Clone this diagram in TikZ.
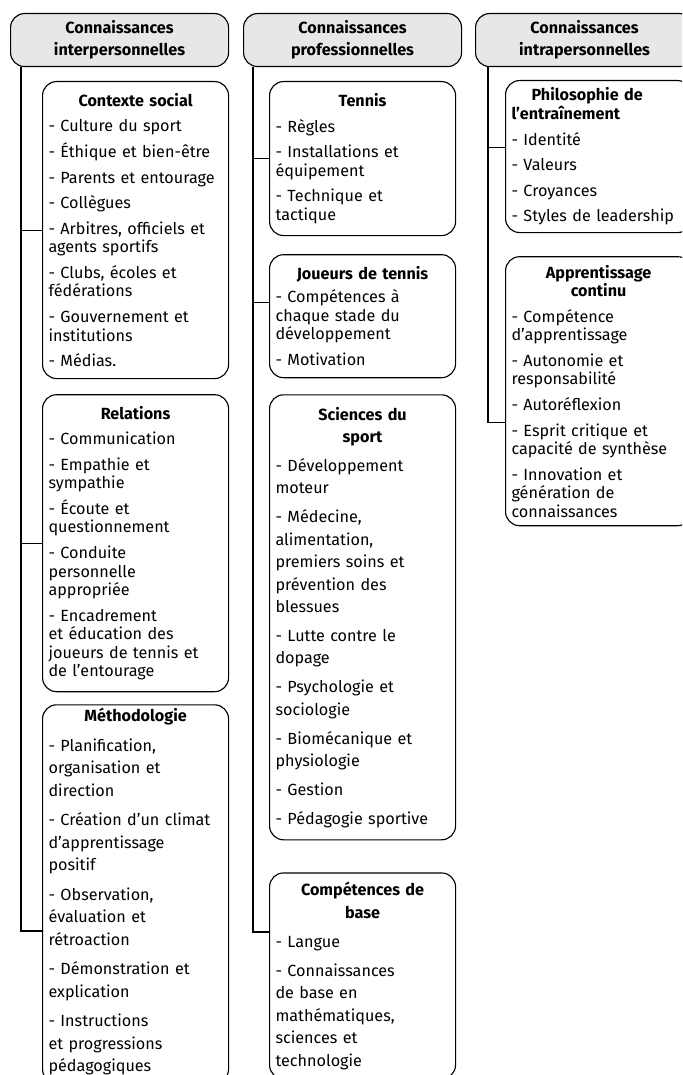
\documentclass[tikz,border=0pt]{standalone}
\usepackage{fontspec}
\setmainfont{Fira Sans}
\usepackage{tikz}
\usetikzlibrary{positioning}
\definecolor{hdrgray}{HTML}{E6E7E8}
\newcommand{\boxtitle}[1]{\makebox[\hsize][c]{\textbf{#1}}}

\begin{document}
\begin{tikzpicture}[
  hdr/.style={draw,line width=0.8pt,rounded corners=0.35cm,fill=hdrgray,minimum width=5.45cm,minimum height=1.325cm,align=center,anchor=north west,font=\fontsize{11.5}{15.5}\selectfont\bfseries},
  topic/.style={draw,line width=0.8pt,rounded corners=0.35cm,text width=4.35cm,inner xsep=0.15cm,inner ysep=0.08cm,align=left,font=\fontsize{11.5}{13.2}\selectfont},
  loose/.style={font=\fontsize{11.5}{16}\selectfont},
  link/.style={line width=0.8pt}
]
\clip (0,0) rectangle (17.05,-26.875);
\fill[white] (0,0) rectangle (17.05,-26.875);

% column headers
\node[hdr] (h1) at (0.25,-0.325) {Connaissances\\interpersonnelles};
\node[hdr] (h2) at (6.075,-0.325) {Connaissances\\professionnelles};
\node[hdr] (h3) at (11.875,-0.325) {Connaissances\\intrapersonnelles};

% interpersonnelles
\node[topic,anchor=north west,minimum height=7.425cm] (cs) at (1.05,-2.025) {\boxtitle{Contexte social}\\[5pt]
- Culture du sport\\[5pt]
- Éthique et bien-être\\[5pt]
- Parents et entourage\\[5pt]
- Collègues\\[5pt]
- Arbitres, officiels et\\agents sportifs\\[5pt]
- Clubs, écoles et\\fédérations\\[5pt]
- Gouvernement et\\institutions\\[5pt]
- Médias.};
\node[topic,below=0.375cm of cs,minimum height=7.425cm] (re) {\boxtitle{Relations}\\[5pt]
- Communication\\[5pt]
- Empathie et\\sympathie\\[5pt]
- Écoute et\\questionnement\\[5pt]
- Conduite\\personnelle\\appropriée\\[5pt]
- Encadrement\\et éducation des\\joueurs de tennis et\\de l’entourage};
\node[topic,loose,below=0.3cm of re,minimum height=9.45cm] (me) {\boxtitle{Méthodologie}\\[5pt]
- Planification,\\organisation et\\direction\\[5pt]
- Création d’un climat\\d’apprentissage\\positif\\[5pt]
- Observation,\\évaluation et\\rétroaction\\[5pt]
- Démonstration et\\explication\\[5pt]
- Instructions\\et progressions\\pédagogiques\\[-10pt]\mbox{}};

% professionnelles
\node[topic,anchor=north west,minimum height=3.85cm] (te) at (6.725,-2.025) {\boxtitle{Tennis}\\[5pt]
- Règles\\[5pt]
- Installations et\\équipement\\[5pt]
- Technique et\\tactique};
\node[topic,below=0.45cm of te,minimum height=3.075cm] (jo) {\boxtitle{Joueurs de tennis}\\[3pt]
- Compétences à\\chaque stade du\\développement\\[5pt]
- Motivation};
\node[topic,loose,below=0.4cm of jo,minimum height=11.125cm] (sc) {\boxtitle{Sciences du}\\\boxtitle{sport}\\[4.5pt]
- Développement\\moteur\\[4.5pt]
- Médecine,\\alimentation,\\premiers soins et\\prévention des\\blessues\\[4.5pt]
- Lutte contre le\\dopage\\[4.5pt]
- Psychologie et\\sociologie\\[4.5pt]
- Biomécanique et\\physiologie\\[4.5pt]
- Gestion\\[4.5pt]
- Pédagogie sportive};
\node[topic,loose,below=0.8cm of sc,minimum height=5.15cm] (cb) {\boxtitle{Compétences de}\\\boxtitle{base}\\[4.5pt]
- Langue\\[4.5pt]
- Connaissances\\de base en\\mathématiques,\\sciences et\\technologie};

% intrapersonnelles
\node[topic,anchor=north west,minimum height=3.8cm] (ph) at (12.625,-2.0) {\hspace*{0.5cm}\textbf{Philosophie de}\\\textbf{l’entraînement}\\[5pt]
- Identité\\[5pt]
- Valeurs\\[5pt]
- Croyances\\[5pt]
- Styles de leadership};
\node[topic,below=0.575cm of ph,minimum height=6.725cm] (ap) {\boxtitle{Apprentissage}\\\boxtitle{continu}\\[5pt]
- Compétence\\d’apprentissage\\[5pt]
- Autonomie et\\responsabilité\\[5pt]
- Autoréflexion\\[5pt]
- Esprit critique et\\capacité de synthèse\\[5pt]
- Innovation et\\génération de\\ connaissances};

% connectors
\draw[link] ([xshift=0.275cm]h1.south west) |- (cs.west);
\draw[link] ([xshift=0.275cm]h1.south west) |- (re.west);
\draw[link] ([xshift=0.275cm]h1.south west) |- ([yshift=-0.925cm]me.west);
\draw[link] ([xshift=0.25cm]h2.south west) |- (te.west);
\draw[link] ([xshift=0.25cm]h2.south west) |- ([yshift=0.34cm]jo.west);
\draw[link] ([xshift=0.25cm]h2.south west) |- ([yshift=1.1cm]cb.west);
\draw[link] ([xshift=0.325cm]h3.south west) |- ([yshift=0.22cm]ph.west);
\draw[link] ([xshift=0.325cm]h3.south west) |- ([yshift=-0.79cm]ap.west);
\end{tikzpicture}
\end{document}
